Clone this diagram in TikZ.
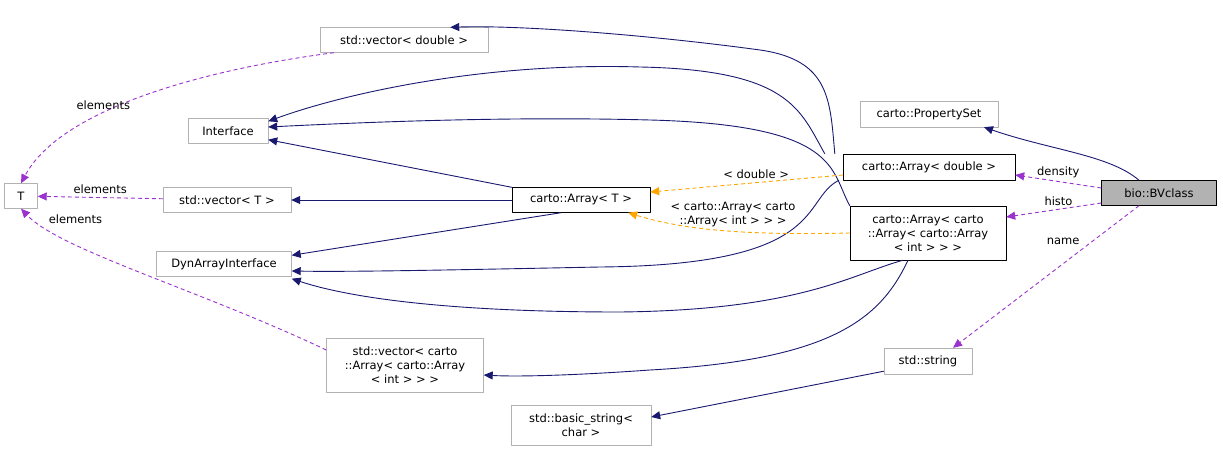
\documentclass[tikz,border=0pt]{standalone}
\usepackage{fontspec}
\setmainfont{DejaVu Sans}
\usetikzlibrary{arrows.meta,calc}
\definecolor{navy}{HTML}{191970}
\definecolor{purp}{HTML}{9A32CD}
\definecolor{orng}{HTML}{FFA500}
\tikzset{
  cls/.style={draw=gray!60,fill=white,inner sep=2pt,align=center,font=\fontsize{11.5}{14}\selectfont},
  main/.style={cls,draw=black},
  inh/.style={draw=navy,line width=0.9pt,-{Triangle[open,fill=navy,length=9pt,width=8pt]}},
  tpl/.style={draw=orng,line width=0.9pt,dash pattern=on 4pt off 3pt,-{Triangle[open,fill=orng,length=9pt,width=8pt]}},
  use/.style={draw=purp,line width=0.9pt,dash pattern=on 4pt off 3pt,-{Triangle[open,fill=purp,length=9pt,width=8pt]}},
  lbl/.style={font=\fontsize{11.5}{14}\selectfont,align=center}
}
\begin{document}
\begin{tikzpicture}[x=1pt,y=-1pt,line join=round]
    \useasboundingbox (0,0) rectangle (1223,452);
    % classes
    \node[cls,minimum width=33,minimum height=25]  (T)    at (21,196)  {T};
    \node[cls,minimum width=168,minimum height=25] (vd)   at (404,40)  {std::vector< double >};
    \node[cls,minimum width=80,minimum height=25]  (ifc)  at (228,131) {Interface};
    \node[cls,minimum width=128,minimum height=25] (vT)   at (227,200) {std::vector< T >};
    \node[cls,minimum width=135,minimum height=25] (dyn)  at (224,264) {DynArrayInterface};
    \node[cls,minimum width=157,minimum height=54] (vca)  at (405,365) {std::vector< carto\\::Array< carto::Array\\< int > > >};
    \node[cls,minimum width=140,minimum height=40] (bstr) at (581,425) {std::basic\_string<\\char >};
    \node[main,minimum width=138,minimum height=25](aT)   at (581,200) {carto::Array< T >};
    \node[cls,minimum width=138,minimum height=26] (ps)   at (929,114) {carto::PropertySet};
    \node[main,minimum width=172,minimum height=26](ad)   at (929,167) {carto::Array< double >};
    \node[main,minimum width=156,minimum height=54](aca)  at (928,233) {carto::Array< carto\\::Array< carto::Array\\< int > > >};
    \node[cls,minimum width=88,minimum height=26]  (str)  at (928,361) {std::string};
    \node[main,fill=gray!60,minimum width=115,minimum height=25] (bv) at (1159,193) {bio::BVclass};
    % inheritance
    \draw[inh] ($(ad.north west)+(-8,0)$) .. controls (830,100) and (830,60) .. (760,50) .. controls (650,35) and (520,25) .. ($(vd.north east)+(-38,0)$);
    \draw[inh] ($(ad.north west)+(-18,0)$) .. controls (800,110) and (790,70) .. (640,67) .. controls (480,62) and (340,95) .. ($(ifc.north east)+(0,3)$);
    \draw[inh] ($(aca.north west)+(0,0)$) .. controls (830,170) and (840,125) .. (650,120) .. controls (500,116) and (350,123) .. ($(ifc.east)+(0,-4)$);
    \draw[inh] ($(aT.north west)+(0,0)$) -- ($(ifc.south east)+(0,-4)$);
    \draw[inh] (aT) -- (vT);
    \draw[inh] ($(aT.south)+(-20,0)$) -- ($(dyn.north east)+(0,4)$);
    \draw[inh] ($(ad.south)+(-90,0)$) .. controls (800,200) and (830,265) .. (600,267) .. controls (450,270) and (350,272) .. ($(dyn.east)+(0,7)$);
    \draw[inh] ($(aca.south)+(-25,0)$) .. controls (850,275) and (800,310) .. (620,312) .. controls (450,312) and (350,298) .. ($(dyn.south east)+(0,2)$);
    \draw[inh] ($(aca.south)+(-20,0)$) .. controls (880,320) and (830,360) .. (650,370) .. controls (580,375) and (520,377) .. ($(vca.east)+(0,10)$);
    \draw[inh] ($(str.south west)+(0,-3)$) -- ($(bstr.east)+(0,-8)$);
    \draw[inh] ($(bv.north)+(-20,0)$) .. controls (1110,155) and (1050,150) .. ($(ps.south)+(55,0)$);
    % templates
    \draw[tpl] ($(ad.west)+(0,8)$) -- node[lbl,above,pos=.45]{< double >} ($(aT.east)+(0,-8)$);
    \draw[tpl] ($(aca.west)+(0,0)$) .. controls (760,235) and (690,232) .. ($(aT.south east)+(-22,0)$);
    \node[lbl] (tlbl) at (733,215) {< carto::Array< carto\\::Array< int > > >};
    % usage
    \draw[use] ($(bv.west)+(0,-5)$) -- node[lbl,above,pos=.5]{density} ($(ad.east)+(0,8)$);
    \draw[use] ($(bv.west)+(0,10)$) -- node[lbl,above,pos=.45]{histo} ($(aca.east)+(0,-16)$);
    \draw[use] ($(bv.south)+(-20,0)$) -- node[lbl,above left,pos=.3]{name} ($(str.north)+(25,0)$);
    \draw[use] ($(vd.south)+(-70,0)$) .. controls (200,70) and (60,110) .. node[lbl,above,pos=.62]{elements} (T.north);
    \draw[use] (vT) -- node[lbl,above]{elements} (T);
    \draw[use] ($(vca.west)+(0,-15)$) .. controls (200,290) and (60,250) .. node[lbl,above right,pos=.85]{elements} (T.south);
\end{tikzpicture}
\end{document}
